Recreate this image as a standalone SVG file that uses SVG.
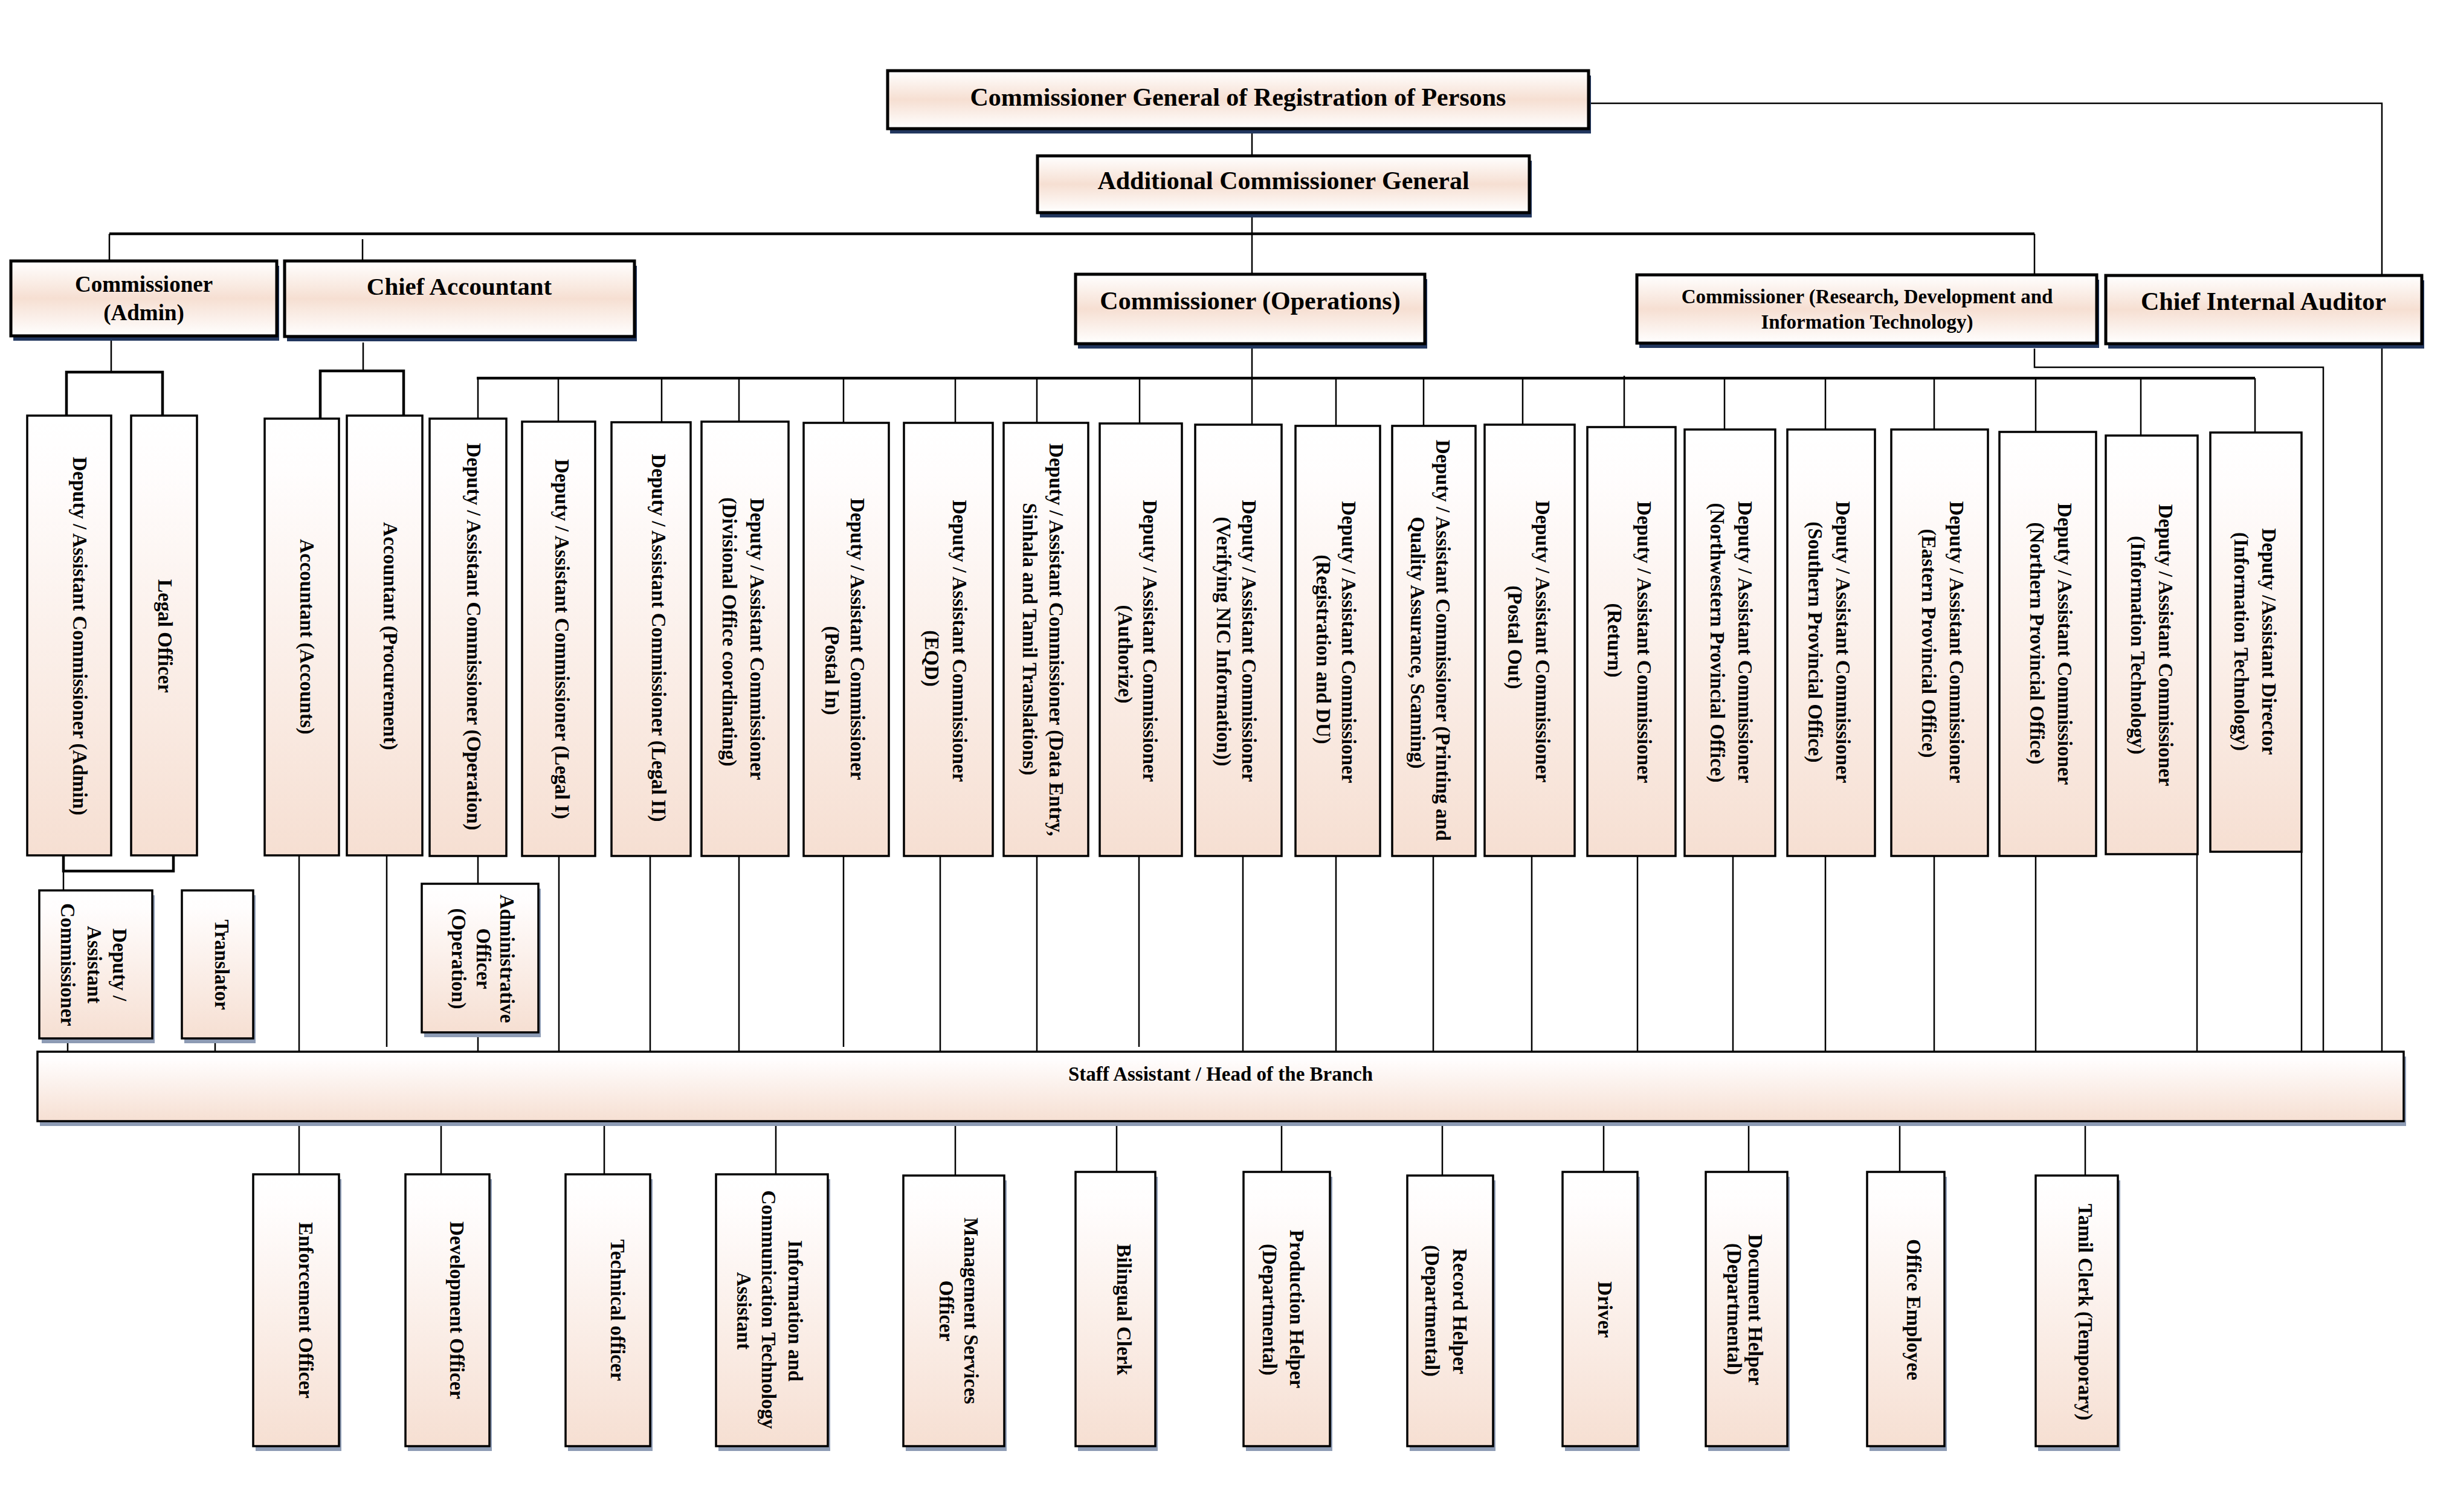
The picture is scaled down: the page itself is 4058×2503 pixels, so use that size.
<svg xmlns="http://www.w3.org/2000/svg" width="4058" height="2503" viewBox="0 0 4058 2503">
<defs>
<linearGradient id="gv" x1="0" y1="0" x2="0" y2="1"><stop offset="0" stop-color="#ffffff"/><stop offset="0.12" stop-color="#fffdfd"/><stop offset="1" stop-color="#f6dfd2"/></linearGradient>
<linearGradient id="gh" x1="0" y1="0" x2="0" y2="1"><stop offset="0" stop-color="#ffffff"/><stop offset="0.5" stop-color="#f6dfd2"/><stop offset="1" stop-color="#ffffff"/></linearGradient>
<style>
.c{stroke:#000;stroke-width:2.5;fill:none}
.bus{stroke:#000;stroke-width:4.5;fill:none}
.tb{fill:url(#gh);stroke:#000;stroke-width:5}
.sh1{fill:#22375f}
.sh2{fill:#8d9bb4}
.vb{fill:url(#gv);stroke:#000;stroke-width:3.5}
.t{font-family:"Liberation Serif","Times New Roman",serif;font-weight:bold;fill:#000;text-anchor:middle}
.v{font-family:"Liberation Serif","Times New Roman",serif;font-weight:bold;font-size:33px;fill:#000;text-anchor:middle}
</style>
</defs>
<rect width="4058" height="2503" fill="#ffffff"/>
<g id="connectors">
<path class="c" d="M2072,213 V258"/>
<path class="c" d="M2072,352 V387"/>
<path class="bus" d="M181,387 H3367"/>
<path class="c" d="M181,387 V432"/>
<path class="c" d="M600,396 V432"/>
<path class="c" d="M2072,387 V454"/>
<path class="c" d="M3367,387 V455"/>
<path class="c" d="M2629,171 H3942 V1741"/>
<path class="c" d="M184,564 V616"/>
<path class="bus" d="M110,688 V616 H269 V688"/>
<path class="c" d="M601,567 V612"/>
<path class="bus" d="M530,693 V614 H668 V688"/>
<path class="c" d="M2072,577 V626"/>
<path class="bus" d="M789,626 H3732"/>
<path class="c" d="M791,626V693 M924,626V698 M1095,626V699 M1223,626V698 M1396,626V700 M1581,626V700 M1716,626V700 M1886,626V701 M2211,626V705 M2356,626V705 M2520,626V703 M2688,622V707 M2854,626V711 M3021,626V711 M3201,626V711 M3369,626V715 M3543,626V721 M3732,626V716"/>
<path class="c" d="M2072,626 V703"/>
<path class="c" d="M3367,577 V608 H3845 V1741"/>
<path class="bus" d="M105,1416 V1442 H287 V1416"/>
<path class="c" d="M105,1442 V1474"/>
<path class="c" d="M112,1719 V1741 M356,1719 V1741"/>
<path class="c" d="M495,1416V1741 M640,1416V1733 M791,1417V1463 M791,1709V1741 M925,1417V1741 M1076,1417V1741 M1223,1417V1741 M1396,1417V1733 M1556,1417V1741 M1716,1417V1741 M1885,1417V1733 M2057,1417V1741 M2211,1417V1741 M2372,1417V1741 M2535,1417V1741 M2710,1417V1741 M2868,1417V1741 M3021,1417V1741 M3201,1417V1741 M3369,1417V1741 M3636,1414V1741 M3809,1410V1741"/>
<path class="c" d="M495,1856V1944 M730,1856V1944 M1000,1856V1944 M1284,1856V1944 M1581,1856V1946 M1848,1856V1940 M2121,1856V1940 M2387,1856V1946 M2654,1856V1940 M2894,1856V1940 M3144,1856V1940 M3451,1856V1946"/>
</g>
<g id="n-cg"><rect class="sh1" x="1473" y="125" width="1160" height="96"/><rect class="tb" x="1469" y="117" width="1160" height="96"/><text class="t" x="2049" y="175" font-size="42">Commissioner General of Registration of Persons</text></g>
<g id="n-acg"><rect class="sh1" x="1721" y="266" width="814" height="94"/><rect class="tb" x="1717" y="258" width="814" height="94"/><text class="t" x="2124" y="313" font-size="42">Additional Commissioner General</text></g>
<g id="n-comm-admin"><rect class="sh1" x="22" y="440" width="440" height="124"/><rect class="tb" x="18" y="432" width="440" height="124"/><text class="t" x="238" y="483" font-size="37">Commissioner</text><text class="t" x="238" y="530" font-size="37">(Admin)</text></g>
<g id="n-chief-acc"><rect class="sh1" x="475" y="440" width="579" height="125"/><rect class="tb" x="471" y="432" width="579" height="125"/><text class="t" x="760" y="488" font-size="41">Chief Accountant</text></g>
<g id="n-comm-ops"><rect class="sh1" x="1784" y="462" width="578" height="115"/><rect class="tb" x="1780" y="454" width="578" height="115"/><text class="t" x="2069" y="512" font-size="42">Commissioner (Operations)</text></g>
<g id="n-comm-rd"><rect class="sh1" x="2713" y="463" width="761" height="113"/><rect class="tb" x="2709" y="455" width="761" height="113"/><text class="t" x="3090" y="502" font-size="33">Commissioner (Research, Development and</text><text class="t" x="3090" y="544" font-size="33">Information Technology)</text></g>
<g id="n-cia"><rect class="sh1" x="3489" y="464" width="523" height="113"/><rect class="tb" x="3485" y="456" width="523" height="113"/><text class="t" x="3746" y="513" font-size="42">Chief Internal Auditor</text></g>

<g id="n-dac-admin"><rect class="vb" x="45" y="688" width="139" height="728"/><text class="v" transform="translate(132 1053) rotate(90)" y="11">Deputy / Assistant Commissioner (Admin)</text></g>
<g id="n-legal-officer"><rect class="vb" x="217" y="688" width="109" height="728"/><text class="v" transform="translate(273 1053) rotate(90)" y="11">Legal Officer</text></g>
<g id="n-acc-accounts"><rect class="vb" x="438" y="693" width="123" height="723"/><text class="v" transform="translate(508 1054) rotate(90)" y="11">Accountant (Accounts)</text></g>
<g id="n-acc-proc"><rect class="vb" x="574" y="688" width="125" height="728"/><text class="v" transform="translate(646 1053) rotate(90)" y="11">Accountant (Procurement)</text></g>
<g id="n-dac-operation"><rect class="vb" x="711" y="693" width="127" height="724"/><text class="v" transform="translate(784 1054) rotate(90)" y="11">Deputy / Assistant Commissioner (Operation)</text></g>
<g id="n-dac-legal1"><rect class="vb" x="864" y="698" width="121" height="719"/><text class="v" transform="translate(930 1058) rotate(90)" y="11">Deputy / Assistant Commissioner (Legal I)</text></g>
<g id="n-dac-legal2"><rect class="vb" x="1012" y="699" width="131" height="718"/><text class="v" transform="translate(1090 1056) rotate(90)" y="11">Deputy / Assistant Commissioner (Legal II)</text></g>
<g id="n-dac-divisional"><rect class="vb" x="1161" y="698" width="144" height="719"/><text class="v" transform="translate(1253 1058) rotate(90)" y="11">Deputy / Assistant Commissioner</text><text class="v" transform="translate(1207 1046) rotate(90)" y="11">(Divisional Office coordinating)</text></g>
<g id="n-dac-postal-in"><rect class="vb" x="1330" y="700" width="141" height="717"/><text class="v" transform="translate(1419 1058) rotate(90)" y="11">Deputy / Assistant Commissioner</text><text class="v" transform="translate(1377 1110) rotate(90)" y="11">(Postal In)</text></g>
<g id="n-dac-eqd"><rect class="vb" x="1496" y="700" width="147" height="717"/><text class="v" transform="translate(1588 1061) rotate(90)" y="11">Deputy / Assistant Commissioner</text><text class="v" transform="translate(1542 1090) rotate(90)" y="11">(EQD)</text></g>
<g id="n-dac-data-entry"><rect class="vb" x="1661" y="700" width="140" height="717"/><text class="v" transform="translate(1748 1059) rotate(90)" y="11">Deputy / Assistant Commissioner (Data Entry,</text><text class="v" transform="translate(1704 1058) rotate(90)" y="11">Sinhala and Tamil Translations)</text></g>
<g id="n-dac-authorize"><rect class="vb" x="1820" y="701" width="136" height="716"/><text class="v" transform="translate(1903 1061) rotate(90)" y="11">Deputy / Assistant Commissioner</text><text class="v" transform="translate(1862 1083) rotate(90)" y="11">(Authorize)</text></g>
<g id="n-dac-nic"><rect class="vb" x="1978" y="703" width="143" height="714"/><text class="v" transform="translate(2067 1061) rotate(90)" y="11">Deputy / Assistant Commissioner</text><text class="v" transform="translate(2025 1062) rotate(90)" y="11">(Verifying NIC Information))</text></g>
<g id="n-dac-du"><rect class="vb" x="2144" y="705" width="140" height="712"/><text class="v" transform="translate(2232 1063) rotate(90)" y="11">Deputy / Assistant Commissioner</text><text class="v" transform="translate(2190 1075) rotate(90)" y="11">(Registration and DU)</text></g>
<g id="n-dac-printing"><rect class="vb" x="2304" y="705" width="138" height="712"/><text class="v" transform="translate(2388 1060) rotate(90)" y="11">Deputy / Assistant Commissioner (Printing and</text><text class="v" transform="translate(2346 1064) rotate(90)" y="11">Quality Assurance, Scanning)</text></g>
<g id="n-dac-postal-out"><rect class="vb" x="2457" y="703" width="149" height="714"/><text class="v" transform="translate(2553 1062) rotate(90)" y="11">Deputy / Assistant Commissioner</text><text class="v" transform="translate(2507 1055) rotate(90)" y="11">(Postal Out)</text></g>
<g id="n-dac-return"><rect class="vb" x="2627" y="707" width="146" height="710"/><text class="v" transform="translate(2721 1063) rotate(90)" y="11">Deputy / Assistant Commissioner</text><text class="v" transform="translate(2672 1060) rotate(90)" y="11">(Return)</text></g>
<g id="n-dac-nw"><rect class="vb" x="2788" y="711" width="150" height="706"/><text class="v" transform="translate(2888 1063) rotate(90)" y="11">Deputy / Assistant Commissioner</text><text class="v" transform="translate(2842 1064) rotate(90)" y="11">(Northwestern Provincial Office)</text></g>
<g id="n-dac-southern"><rect class="vb" x="2958" y="711" width="145" height="706"/><text class="v" transform="translate(3050 1063) rotate(90)" y="11">Deputy / Assistant Commissioner</text><text class="v" transform="translate(3004 1063) rotate(90)" y="11">(Southern Provincial Office)</text></g>
<g id="n-dac-eastern"><rect class="vb" x="3130" y="711" width="160" height="706"/><text class="v" transform="translate(3238 1063) rotate(90)" y="11">Deputy / Assistant Commissioner</text><text class="v" transform="translate(3192 1065) rotate(90)" y="11">(Eastern Provincial Office)</text></g>
<g id="n-dac-northern"><rect class="vb" x="3309" y="715" width="160" height="702"/><text class="v" transform="translate(3417 1066) rotate(90)" y="11">Deputy / Assistant Commissioner</text><text class="v" transform="translate(3371 1065) rotate(90)" y="11">(Northern Provincial Office)</text></g>
<g id="n-dac-it"><rect class="vb" x="3485" y="721" width="152" height="693"/><text class="v" transform="translate(3584 1068) rotate(90)" y="11">Deputy / Assistant Commissioner</text><text class="v" transform="translate(3538 1068) rotate(90)" y="11">(Information Technology)</text></g>
<g id="n-dad-it"><rect class="vb" x="3658" y="716" width="151" height="694"/><text class="v" transform="translate(3755 1062) rotate(90)" y="11">Deputy /Assistant Director</text><text class="v" transform="translate(3709 1062) rotate(90)" y="11">(Information Technology)</text></g>

<g id="n-dac-small"><rect class="sh2" x="69" y="1482" width="187" height="245"/><rect class="vb" x="65" y="1474" width="187" height="245"/><text class="v" transform="translate(198 1597) rotate(90)" y="11">Deputy /</text><text class="v" transform="translate(156 1597) rotate(90)" y="11">Assistant</text><text class="v" transform="translate(112 1597) rotate(90)" y="11">Commissioner</text></g>
<g id="n-translator"><rect class="sh2" x="305" y="1482" width="118" height="245"/><rect class="vb" x="301" y="1474" width="118" height="245"/><text class="v" transform="translate(367 1597) rotate(90)" y="11">Translator</text></g>
<g id="n-admin-officer"><rect class="sh2" x="702" y="1471" width="193" height="246"/><rect class="vb" x="698" y="1463" width="193" height="246"/><text class="v" transform="translate(839 1587) rotate(90)" y="11">Administrative</text><text class="v" transform="translate(800 1587) rotate(90)" y="11">Officer</text><text class="v" transform="translate(759 1587) rotate(90)" y="11">(Operation)</text></g>

<g id="n-staff"><rect class="sh2" x="66" y="1749" width="3916" height="115"/><rect class="vb" x="62" y="1741" width="3916" height="115"/><text class="t" x="2020" y="1789" font-size="33">Staff Assistant / Head of the Branch</text></g>

<g id="n-enforcement"><rect class="sh2" x="423" y="1952" width="142" height="450"/><rect class="vb" x="419" y="1944" width="142" height="450"/><text class="v" transform="translate(506 2169) rotate(90)" y="11">Enforcement Officer</text></g>
<g id="n-development"><rect class="sh2" x="675" y="1952" width="139" height="450"/><rect class="vb" x="671" y="1944" width="139" height="450"/><text class="v" transform="translate(756 2169) rotate(90)" y="11">Development Officer</text></g>
<g id="n-technical"><rect class="sh2" x="940" y="1952" width="140" height="450"/><rect class="vb" x="936" y="1944" width="140" height="450"/><text class="v" transform="translate(1022 2169) rotate(90)" y="11">Technical officer</text></g>
<g id="n-ict"><rect class="sh2" x="1189" y="1952" width="185" height="450"/><rect class="vb" x="1185" y="1944" width="185" height="450"/><text class="v" transform="translate(1316 2170) rotate(90)" y="11">Information and</text><text class="v" transform="translate(1272 2168) rotate(90)" y="11">Communication Technology</text><text class="v" transform="translate(1231 2170) rotate(90)" y="11">Assistant</text></g>
<g id="n-mso"><rect class="sh2" x="1499" y="1954" width="167" height="448"/><rect class="vb" x="1495" y="1946" width="167" height="448"/><text class="v" transform="translate(1607 2170) rotate(90)" y="11">Management Services</text><text class="v" transform="translate(1566 2170) rotate(90)" y="11">Officer</text></g>
<g id="n-bilingual"><rect class="sh2" x="1784" y="1948" width="132" height="454"/><rect class="vb" x="1780" y="1940" width="132" height="454"/><text class="v" transform="translate(1860 2168) rotate(90)" y="11">Bilingual Clerk</text></g>
<g id="n-production"><rect class="sh2" x="2062" y="1948" width="143" height="454"/><rect class="vb" x="2058" y="1940" width="143" height="454"/><text class="v" transform="translate(2146 2167) rotate(90)" y="11">Production Helper</text><text class="v" transform="translate(2101 2168) rotate(90)" y="11">(Departmental)</text></g>
<g id="n-record"><rect class="sh2" x="2333" y="1954" width="142" height="448"/><rect class="vb" x="2329" y="1946" width="142" height="448"/><text class="v" transform="translate(2416 2171) rotate(90)" y="11">Record Helper</text><text class="v" transform="translate(2370 2170) rotate(90)" y="11">(Departmental)</text></g>
<g id="n-driver"><rect class="sh2" x="2590" y="1948" width="124" height="454"/><rect class="vb" x="2586" y="1940" width="124" height="454"/><text class="v" transform="translate(2656 2168) rotate(90)" y="11">Driver</text></g>
<g id="n-document"><rect class="sh2" x="2827" y="1948" width="135" height="454"/><rect class="vb" x="2823" y="1940" width="135" height="454"/><text class="v" transform="translate(2905 2168) rotate(90)" y="11">Document Helper</text><text class="v" transform="translate(2870 2167) rotate(90)" y="11">(Departmental)</text></g>
<g id="n-office-employee"><rect class="sh2" x="3094" y="1948" width="128" height="454"/><rect class="vb" x="3090" y="1940" width="128" height="454"/><text class="v" transform="translate(3167 2168) rotate(90)" y="11">Office Employee</text></g>
<g id="n-tamil-clerk"><rect class="sh2" x="3373" y="1954" width="136" height="448"/><rect class="vb" x="3369" y="1946" width="136" height="448"/><text class="v" transform="translate(3451 2172) rotate(90)" y="11">Tamil Clerk (Temporary)</text></g>
</svg>
